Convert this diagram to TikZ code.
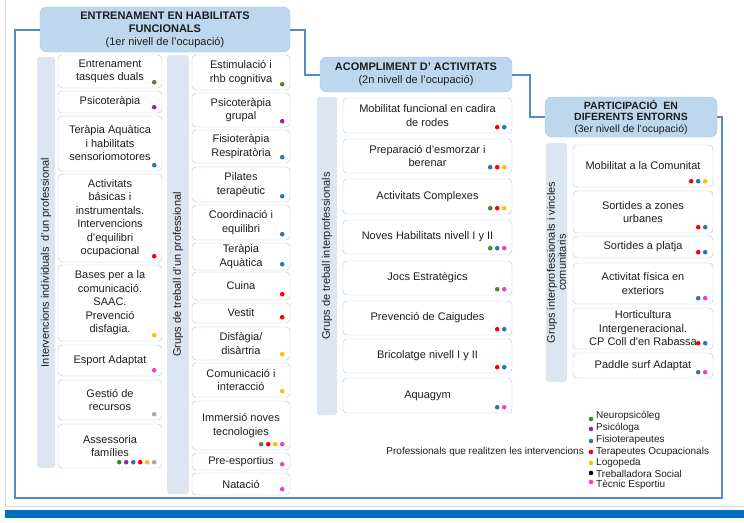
\documentclass[tikz,border=0pt]{standalone}
\usepackage{fontspec}
\setmainfont{Liberation Sans}
\usetikzlibrary{positioning, calc}

\definecolor{boxline}{RGB}{172,194,224}
\definecolor{headfill}{RGB}{189,215,238}
\definecolor{headline}{RGB}{160,192,226}
\definecolor{barfill}{RGB}{220,230,242}
\definecolor{frameblue}{RGB}{84,138,200}
\definecolor{bandblue}{RGB}{0,112,192}
\definecolor{inkgray}{RGB}{30,30,30}
\definecolor{dgreen}{RGB}{84,130,53}
\definecolor{dpurple}{RGB}{160,32,160}
\definecolor{dblue}{RGB}{46,117,182}
\definecolor{dred}{RGB}{255,0,0}
\definecolor{dyellow}{RGB}{255,192,0}
\definecolor{dblack}{RGB}{0,0,0}
\definecolor{dpink}{RGB}{240,64,200}
\definecolor{dgray}{RGB}{166,166,166}

% dots of the professionals in the lower right corner of a box
\newcommand{\profdots}[3]{%
	\foreach \c [count=\i] in {#3}
		\fill[\c] ($(#1.south east)+({-8-7*(#2-\i)},-6)$) circle (2.3pt);
}

\begin{document}
\begin{tikzpicture}[
		x=1pt, y=-1pt,
		actbox/.style={draw=boxline, fill=white, rounded corners=4pt, align=center, inner sep=1pt, text=inkgray, font=\fontsize{11}{13.5}\selectfont},
		headbox/.style={draw=headline, fill=headfill, rounded corners=7pt, align=center, inner sep=1pt, text=inkgray, font=\fontsize{11}{13}\selectfont},
		sidebar/.style={fill=barfill, rounded corners=3pt, rotate=90, align=center, inner sep=0pt, text=inkgray, font=\fontsize{11}{12}\selectfont},
		frameline/.style={draw=frameblue, line width=2pt},
		legtext/.style={inner sep=0pt, text=inkgray, font=\fontsize{10}{12}\selectfont},
	]
	\useasboundingbox (0,0) rectangle (744,522);
	\draw[black!15] (5,0) -- (5,506) -- (744,506);
	\fill[bandblue] (5,510) rectangle (744,518);

	% levels
	\node[headbox, minimum width=250, minimum height=45] (h1) at (165,29.5) {\textbf{ENTRENAMENT EN HABILITATS}\\\textbf{FUNCIONALS}\\(1er nivell de l’ocupació)};
	\node[headbox, minimum width=192, minimum height=35] (h2) at (416,74.5) {\textbf{ACOMPLIMENT D’ ACTIVITATS}\\(2n nivell de l’ocupació)};
	\node[headbox, minimum width=172, minimum height=40, font=\fontsize{10.5}{11.5}\selectfont] (h3) at (631,117) {\textbf{PARTICIPACIÓ\ \ EN}\\\textbf{DIFERENTS ENTORNS}\\(3er nivell de l’ocupació)};

	\draw[frameline] (h1.west) -- ++(-25,0) |- (722,498) |- (h3.east);
	\draw[frameline] (h1.east) -- ++(15,0) |- (h2.west);
	\draw[frameline] (h2.east) -- ++(18,0) |- (h3.west);

	% side labels
	\node[sidebar, minimum width=411, minimum height=18] (s1) at (46,262.5) {Intervencions individuals\ \ d’un professional};
	\node[sidebar, minimum width=439, minimum height=22] (s2) at (178,274.5) {Grups de treball d’un professional};
	\node[sidebar, minimum width=318, minimum height=20] (s3) at (327,256) {Grups de treball interprofessionals};
	\node[sidebar, minimum width=239, minimum height=21, font=\fontsize{11}{11}\selectfont] (s4) at (556.5,262.5) {Grups interprofessionals i vincles\\comunitaris};

	% individual interventions
	\node[actbox, minimum width=104, minimum height=33] (e1) at (110,71.5) {Entrenament\\tasques duals};
	\node[actbox, minimum width=104, minimum height=22] (e2) at (110,102) {Psicoteràpia};
	\node[actbox, minimum width=104, minimum height=55] (e3) at (110,143.5) {Teràpia Aquàtica\\i habilitats\\sensoriomotores};
	\node[actbox, minimum width=104, minimum height=88] (e4) at (110,218) {Activitats\\básicas i\\instrumentals.\\Intervencions\\d’equilibri\\ocupacional};
	\node[actbox, minimum width=104, minimum height=76] (e5) at (110,303) {Bases per a la\\comunicació.\\SAAC.\\Prevenció\\disfagia.};
	\node[actbox, minimum width=104, minimum height=31] (e6) at (110,360.5) {Esport Adaptat};
	\node[actbox, minimum width=104, minimum height=40] (e7) at (110,400) {Gestió de\\recursos};
	\node[actbox, minimum width=104, minimum height=44] (e8) at (110,446) {Assessoria\\famílies};

	\profdots{e1}{1}{dgreen}
	\profdots{e2}{1}{dpurple}
	\profdots{e3}{1}{dblue}
	\profdots{e4}{1}{dred}
	\profdots{e5}{1}{dyellow}
	\profdots{e6}{1}{dpink}
	\profdots{e7}{1}{dgray}
	\profdots{e8}{6}{dgreen,dpurple,dblue,dred,dyellow,dgray}

	% groups of one professional
	\node[actbox, minimum width=98, minimum height=35] (g1) at (241,72.5) {Estimulació i\\rhb cognitiva};
	\node[actbox, minimum width=98, minimum height=34] (g2) at (241,110) {Psicoteràpia\\grupal};
	\node[actbox, minimum width=98, minimum height=33] (g3) at (241,146.5) {Fisioteràpia\\Respiratòria};
	\node[actbox, minimum width=98, minimum height=35] (g4) at (241,184.5) {Pilates\\terapèutic};
	\node[actbox, minimum width=98, minimum height=35] (g5) at (241,222.5) {Coordinació i\\equilibri};
	\node[actbox, minimum width=98, minimum height=27] (g6) at (241,256.5) {Teràpia\\Aquàtica};
	\node[actbox, minimum width=98, minimum height=28] (g7) at (241,286) {Cuina};
	\node[actbox, minimum width=98, minimum height=20] (g8) at (241,313) {Vestit};
	\node[actbox, minimum width=98, minimum height=33] (g9) at (241,343.5) {Disfàgia/\\disàrtria};
	\node[actbox, minimum width=98, minimum height=34] (g10) at (241,380) {Comunicació i\\interacció};
	\node[actbox, minimum width=98, minimum height=49] (g11) at (241,425.5) {Immersió noves\\tecnologies};
	\node[actbox, minimum width=98, minimum height=17] (g12) at (241,461.5) {Pre-esportius};
	\node[actbox, minimum width=98, minimum height=22] (g13) at (241,484) {Natació};

	\profdots{g1}{1}{dgreen}
	\profdots{g2}{1}{dpurple}
	\profdots{g3}{1}{dblue}
	\profdots{g4}{1}{dblue}
	\profdots{g5}{1}{dblue}
	\profdots{g6}{1}{dblue}
	\profdots{g7}{1}{dred}
	\profdots{g8}{1}{dred}
	\profdots{g9}{1}{dyellow}
	\profdots{g10}{1}{dyellow}
	\profdots{g11}{4}{dgreen,dred,dyellow,dpink}
	\profdots{g12}{1}{dpink}
	\profdots{g13}{1}{dpink}

	% interprofessional groups
	\node[actbox, minimum width=169, minimum height=35] (m1) at (427.5,115.5) {Mobilitat funcional en cadira\\de rodes};
	\node[actbox, minimum width=169, minimum height=34] (m2) at (427.5,156) {Preparació d’esmorzar i\\berenar};
	\node[actbox, minimum width=169, minimum height=35] (m3) at (427.5,196.5) {Activitats Complexes};
	\node[actbox, minimum width=169, minimum height=34] (m4) at (427.5,237) {Noves Habilitats nivell I y II};
	\node[actbox, minimum width=169, minimum height=34] (m5) at (427.5,278) {Jocs Estratègics};
	\node[actbox, minimum width=169, minimum height=34] (m6) at (427.5,318) {Prevenció de Caigudes};
	\node[actbox, minimum width=169, minimum height=34] (m7) at (427.5,356) {Bricolatge nivell I y II};
	\node[actbox, minimum width=169, minimum height=35] (m8) at (427.5,395.5) {Aquagym};

	\profdots{m1}{2}{dred,dblue}
	\profdots{m2}{3}{dblue,dred,dyellow}
	\profdots{m3}{3}{dgreen,dred,dyellow}
	\profdots{m4}{3}{dgreen,dblue,dpink}
	\profdots{m5}{2}{dgreen,dpink}
	\profdots{m6}{2}{dred,dblue}
	\profdots{m7}{2}{dred,dblue}
	\profdots{m8}{2}{dblue,dpink}

	% community
	\node[actbox, minimum width=140, minimum height=42] (p1) at (643,166) {Mobilitat a la Comunitat};
	\node[actbox, minimum width=140, minimum height=42] (p2) at (643,212) {Sortides a zones\\urbanes};
	\node[actbox, minimum width=140, minimum height=22] (p3) at (643,247) {Sortides a platja};
	\node[actbox, minimum width=140, minimum height=41] (p4) at (643,283.5) {Activitat física en\\exteriors};
	\node[actbox, minimum width=140, minimum height=41] (p5) at (643,328.5) {Horticultura\\Intergeneracional.\\CP Coll d’en Rabassa};
	\node[actbox, minimum width=140, minimum height=25] (p6) at (643,365.5) {Paddle surf Adaptat};

	\profdots{p1}{3}{dred,dblue,dyellow}
	\profdots{p2}{2}{dred,dblue}
	\profdots{p3}{2}{dred,dblue}
	\profdots{p4}{2}{dblue,dpink}
	\profdots{p5}{2}{dred,dblue}
	\profdots{p6}{2}{dblue,dpink}

	% legend
	\node[legtext, anchor=east] (legtitle) at (584,452) {Professionals que realitzen les intervencions};
	\node[legtext, anchor=west] (l1) at (596,416) {Neuropsicòleg};
	\node[legtext, anchor=west] (l2) at (596,428) {Psicóloga};
	\node[legtext, anchor=west] (l3) at (596,440) {Fisioterapeutes};
	\node[legtext, anchor=west] (l4) at (596,452) {Terapeutes Ocupacionals};
	\node[legtext, anchor=west] (l5) at (596,463) {Logopeda};
	\node[legtext, anchor=west] (l6) at (596,474) {Treballadora Social};
	\node[legtext, anchor=west] (l7) at (596,485) {Tècnic Esportiu};
	\fill[dgreen] ($(l1.west)+(-5,3)$) circle (2.3pt);
	\fill[dpurple] ($(l2.west)+(-5,1)$) circle (2.3pt);
	\fill[dblue] ($(l3.west)+(-5,1)$) circle (2.3pt);
	\fill[dred] ($(l4.west)+(-5,0)$) circle (2.3pt);
	\fill[dyellow] ($(l5.west)+(-5,0)$) circle (2.3pt);
	\fill[dblack] ($(l6.west)+(-5,-1)$) circle (2.3pt);
	\fill[dpink] ($(l7.west)+(-5,-3)$) circle (2.3pt);
\end{tikzpicture}
\end{document}
